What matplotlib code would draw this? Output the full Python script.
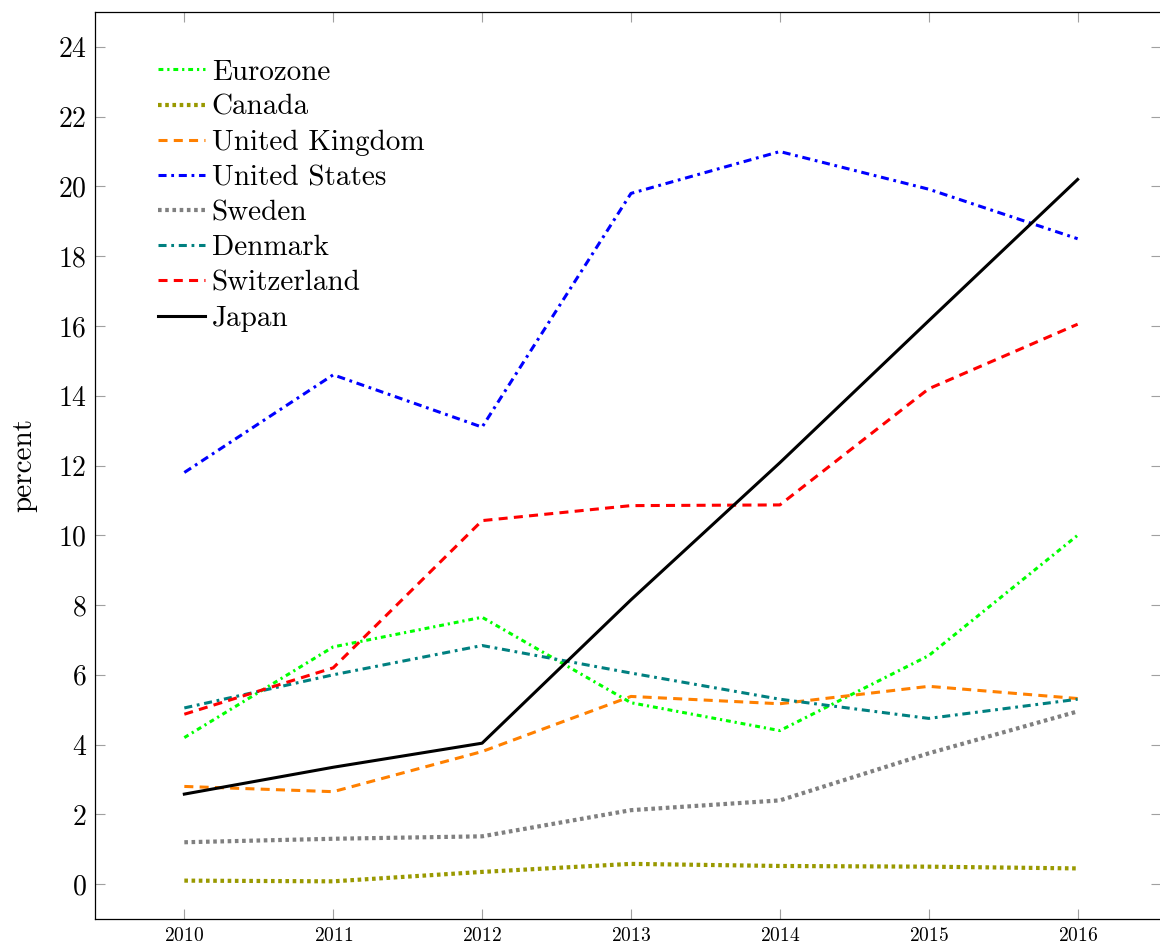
import matplotlib.pyplot as plt

plt.rcParams["font.family"] = "serif"
plt.rcParams["font.serif"] = ["cmr10", "DejaVu Serif"]
plt.rcParams["axes.formatter.use_mathtext"] = True
plt.rcParams["mathtext.fontset"] = "cm"
plt.rcParams["lines.scale_dashes"] = False

years = [2010, 2011, 2012, 2013, 2014, 2015, 2016]

eurozone = [4.2, 6.8, 7.65, 5.2, 4.4, 6.55, 10.0]
canada = [0.1, 0.08, 0.35, 0.58, 0.52, 0.5, 0.45]
united_kingdom = [2.8, 2.65, 3.8, 5.38, 5.17, 5.67, 5.32]
united_states = [11.8, 14.6, 13.1, 19.8, 21.0, 19.92, 18.5]
sweden = [1.2, 1.3, 1.37, 2.12, 2.4, 3.75, 4.95]
denmark = [5.05, 6.0, 6.84, 6.05, 5.3, 4.75, 5.3]
switzerland = [4.87, 6.2, 10.42, 10.85, 10.87, 14.2, 16.05]
japan = [2.58, 3.35, 4.04, 8.15, 12.08, 16.15, 20.2]

# name, values, colour, dash pattern (points), width
series = [
    ("Eurozone", eurozone, "#00ff00", (0, (3.5, 2.8, 1.6, 2.8)), 2.2),
    ("Canada", canada, "#999900", (0, (2.6, 2.6)), 3.0),
    ("United Kingdom", united_kingdom, "#ff8000", (0, (6.5, 4.5)), 2.2),
    ("United States", united_states, "#0000ff", (0, (5.8, 3.4, 2.0, 3.4)), 2.2),
    ("Sweden", sweden, "#808080", (0, (2.6, 2.6)), 3.0),
    ("Denmark", denmark, "#008080", (0, (5.8, 3.4, 2.0, 3.4)), 2.2),
    ("Switzerland", switzerland, "#ff0000", (0, (6.5, 4.5)), 2.2),
    ("Japan", japan, "black", "-", 2.2),
]

fig = plt.figure(figsize=(11.6, 9.49), dpi=100)
ax = fig.add_axes([95 / 1160, 30 / 949, 1066 / 1160, 907 / 949])

for name, values, color, style, width in series:
    ax.plot(years, values, color=color, linestyle=style, linewidth=width,
            dash_capstyle="butt", label=name)

ax.set_xlim(2009.4, 2016.56)
ax.set_ylim(-1, 25)
ax.set_xticks(years)
ax.set_yticks(range(0, 25, 2))
ax.tick_params(axis="y", labelsize=20, direction="in", length=7,
               color="#a0a0a0", left=True, right=True, pad=6)
ax.tick_params(axis="x", labelsize=14, direction="in", length=7,
               color="#a0a0a0", bottom=True, top=True, pad=6)
ax.set_ylabel("percent", fontsize=21)
ax.yaxis.set_label_coords(-0.054, 0.5)

for spine in ax.spines.values():
    spine.set_linewidth(0.9)

ax.legend(loc="upper left", bbox_to_anchor=(0.059, 0.948), frameon=False,
          fontsize=21, handlelength=1.6, handletextpad=0.25, labelspacing=0.3,
          borderaxespad=0, borderpad=0)

fig.savefig("out.png", dpi=100)
